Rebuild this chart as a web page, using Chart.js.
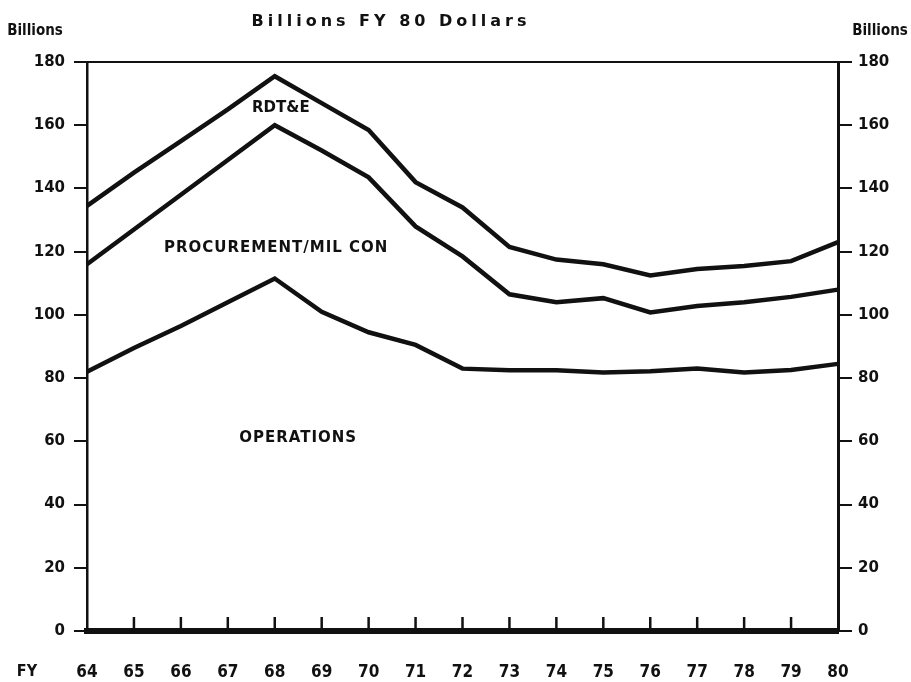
<!DOCTYPE html>
<html>
<head>
<meta charset="utf-8">
<script src="https://cdn.jsdelivr.net/npm/chart.js@4.4.0/dist/chart.umd.min.js"></script>
<style>
  html, body { margin: 0; padding: 0; background: #fff; }
  #wrap { width: 911px; height: 682px; }
</style>
</head>
<body>
<div id="wrap"><canvas id="chart" width="911" height="682"></canvas></div>
<script>
// fiscal years and the three stacked totals (billions, FY 80 dollars)
let years = ['64', '65', '66', '67', '68', '69', '70', '71', '72', '73', '74', '75', '76', '77', '78', '79', '80']
let rdte = [134.5, 145, 155, 165, 175.5, 167, 158.5, 142, 134, 121.5, 117.5, 116, 112.5, 114.5, 115.5, 117, 123]
let procurement = [116, 127, 138, 149, 160, 152, 143.5, 128, 118.5, 106.5, 104, 105.3, 100.8, 102.8, 104, 105.7, 108]
let operations = [82, 89.5, 96.5, 104, 111.5, 101, 94.5, 90.5, 83, 82.5, 82.5, 81.8, 82.2, 83, 81.8, 82.6, 84.5]
let yTicks = [0, 20, 40, 60, 80, 100, 120, 140, 160, 180]

const narrow = "'Liberation Sans Narrow', 'DejaVu Sans Condensed', 'Liberation Sans', sans-serif"
const wide = "'DejaVu Sans', 'Liberation Sans', sans-serif"
const ink = '#111'

const extras = {
    id: 'extras',
    afterDraw(chart) {
        const c = chart.ctx
        const x = chart.scales.x
        const y = chart.scales.y
        const area = chart.chartArea
        c.save()
        // ticks on the bottom axis, pointing up into the plot
        c.strokeStyle = ink
        c.lineWidth = 2.5
        years.forEach((yr, i) => {
            if (i === 0 || i === years.length - 1) return
            const px = x.getPixelForValue(i)
            c.beginPath()
            c.moveTo(px, area.bottom)
            c.lineTo(px, area.bottom - 14)
            c.stroke()
        })
        // top border extends past both axes
        c.lineWidth = 2
        c.beginPath()
        c.moveTo(area.left - 12, y.getPixelForValue(180))
        c.lineTo(area.right + 12, y.getPixelForValue(180))
        c.stroke()

        c.fillStyle = ink
        c.textBaseline = 'middle'
        c.textAlign = 'center'
        c.font = 'bold 16px ' + wide
        c.letterSpacing = '4px'
        c.fillText('Billions FY 80 Dollars', 391, 22)
        c.letterSpacing = '0px'
        c.font = 'bold 15px ' + narrow
        c.fillText('Billions', 35, 31)
        c.fillText('Billions', 880, 31)
        c.font = 'bold 16px ' + narrow
        c.fillText('FY', 27, 672)

        c.font = 'bold 15px ' + wide
        c.fillText('RDT&E', x.getPixelForValue(4.13), y.getPixelForValue(165.5))
        c.letterSpacing = '1px'
        c.fillText('PROCUREMENT/MIL CON', x.getPixelForValue(4.03), y.getPixelForValue(121))
        c.fillText('OPERATIONS', x.getPixelForValue(4.5), y.getPixelForValue(61))
        c.restore()
    }
}

const lineStyle = {
    borderColor: ink,
    borderWidth: 4.5,
    pointRadius: 0,
    tension: 0,
    fill: false,
    borderJoinStyle: 'miter'
}

new Chart(document.getElementById('chart'), {
    type: 'line',
    data: {
        labels: years,
        datasets: [
            { label: 'RDT&E', data: rdte, ...lineStyle },
            { label: 'Procurement/Mil Con', data: procurement, ...lineStyle },
            { label: 'Operations', data: operations, ...lineStyle }
        ]
    },
    options: {
        responsive: false,
        animation: false,
        layout: { padding: { top: 62, right: 0, bottom: 0, left: 0 } },
        plugins: { legend: { display: false }, tooltip: { enabled: false }, title: { display: false } },
        scales: {
            x: {
                type: 'category',
                offset: false,
                grid: { display: true, drawOnChartArea: false, drawTicks: false },
                border: { display: true, color: ink, width: 6 },
                ticks: { color: ink, padding: 31, maxRotation: 0, autoSkip: false, font: { family: narrow, size: 17, weight: 'bold' } },
                afterFit(s) { s.height = 51 }
            },
            y: {
                position: 'left',
                min: 0,
                max: 180,
                afterBuildTicks(s) { s.ticks = yTicks.map(v => ({ value: v })) },
                grid: { drawOnChartArea: false, drawTicks: true, tickLength: 13, color: ink, lineWidth: 2 },
                border: { display: true, color: ink, width: 2.5 },
                ticks: { color: ink, padding: 9, font: { family: wide, size: 15, weight: 'bold' } },
                afterFit(s) { s.width = 87 }
            },
            y2: {
                position: 'right',
                min: 0,
                max: 180,
                afterBuildTicks(s) { s.ticks = yTicks.map(v => ({ value: v })) },
                grid: { drawOnChartArea: false, drawTicks: true, tickLength: 14, color: ink, lineWidth: 2 },
                border: { display: true, color: ink, width: 3 },
                ticks: { color: ink, padding: 6, font: { family: wide, size: 15, weight: 'bold' } },
                afterFit(s) { s.width = 73 }
            }
        }
    },
    plugins: [extras]
})
</script>
</body>
</html>
